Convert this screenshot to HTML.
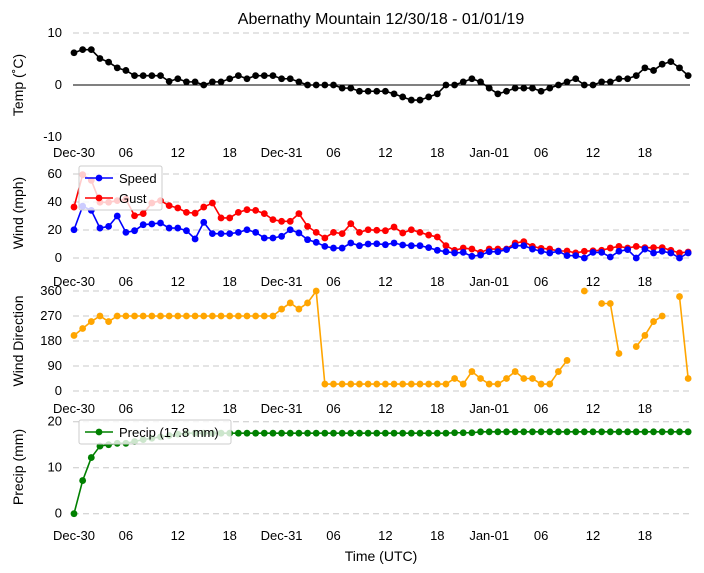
<!DOCTYPE html>
<html><head><meta charset="utf-8"><style>
body{margin:0;background:#fff;}
svg{display:block;font-family:"Liberation Sans","DejaVu Sans",sans-serif;}
</style></head><body>
<svg id="chart" width="704" height="573" viewBox="0 0 704 573" xmlns="http://www.w3.org/2000/svg">
<text x="381" y="24" font-size="16" text-anchor="middle">Abernathy Mountain 12/30/18 - 01/01/19</text>
</svg>
<script>
const tickLabels = ["Dec-30","06","12","18","Dec-31","06","12","18","Jan-01","06","12","18"];
const temp = [6.2,6.8,6.8,5.1,4.4,3.3,2.8,1.8,1.8,1.8,1.8,0.7,1.2,0.6,0.6,0,0.6,0.6,1.2,1.8,1.2,1.8,1.8,1.8,1.2,1.2,0.6,0,0,0,0,-0.6,-0.6,-1.2,-1.2,-1.2,-1.2,-1.7,-2.3,-2.9,-2.9,-2.3,-1.7,0,0,0.6,1.2,0.6,-0.6,-1.7,-1.2,-0.6,-0.6,-0.6,-1.2,-0.6,0,0.6,1.2,0,0,0.6,0.6,1.2,1.2,1.8,3.3,2.8,4.0,4.5,3.3,1.8];
const speed = [20.2,37,34,21.4,22.6,30,18.3,19.5,23.8,24.3,25,21.4,21.4,19.5,13.6,25.5,17.4,17.4,17.4,18.3,20.2,18.3,14.3,14.3,15.5,20.2,17.9,13.1,11.2,8.3,7.1,7.1,10.7,8.8,10,10.2,9.5,10.7,9.3,8.8,8.8,7.4,5.5,4.5,3.6,4,1.2,2.1,4.5,4.5,6,8.8,8.8,6.4,4.8,3.6,4.8,1.7,1.7,0,4,4,0.7,4.8,6,0,6.4,3.6,4.8,3.6,0,3.6];
const gust = [36.4,59.5,55.5,39.8,39.8,41,42,30.2,31.7,39.3,41,37.4,35.7,32.6,32,36.4,39.3,28.6,28.6,32.6,34.5,34,31.7,27.4,26.2,26.2,31.7,22.6,18.3,14.3,18.3,17.4,24.5,18.3,20.2,19.8,19.5,22.1,17.9,20.2,18.3,16.4,15,8.8,5.5,7.1,6.4,4,6.4,6.4,6.4,10.7,11.7,8.3,6.9,6.4,5,5,3.6,4.8,5.2,5.5,7.1,8.3,7.1,8.3,7.4,7.4,7.4,5.5,3.6,4.3];
const dir = [200,225,250,270,250,270,270,270,270,270,270,270,270,270,270,270,270,270,270,270,270,270,270,270,295,317,295,317,360,25,25,25,25,25,25,25,25,25,25,25,25,25,25,25,45,25,70,45,25,25,45,70,45,45,25,25,70,110,null,360,null,315,315,135,null,160,200,250,270,null,340,45];
const precip = [0,7.2,12.2,14.7,15,15.3,15.3,15.7,16.1,16.4,16.7,17,17.3,17.5,17.5,17.5,17.5,17.5,17.5,17.5,17.5,17.5,17.5,17.5,17.5,17.5,17.5,17.5,17.5,17.5,17.5,17.5,17.5,17.5,17.5,17.5,17.5,17.5,17.5,17.5,17.5,17.5,17.5,17.5,17.6,17.6,17.6,17.8,17.8,17.8,17.8,17.8,17.8,17.8,17.8,17.8,17.8,17.8,17.8,17.8,17.8,17.8,17.8,17.8,17.8,17.8,17.8,17.8,17.8,17.8,17.8,17.8];

const svg=document.getElementById('chart');
const NS="http://www.w3.org/2000/svg";
function el(tag,attrs,parent){const e=document.createElementNS(NS,tag);for(const k in attrs)e.setAttribute(k,attrs[k]);(parent||svg).appendChild(e);return e;}
const x=h=>74+h*8.65;
const X0=73,X1=690;

function panel(name,y0,v0,y1,v1,ticks,ylabel,labelY,grid,tickY){
  const g=el('g',{});
  
  
  const sy=v=>y0+(v-v0)*(y1-y0)/(v1-v0);
  ticks.forEach((t,i)=>{
    const yy=sy(t);
    const skip = grid==='zero' && i===ticks.length-1;
    if(!skip){
      const ln=el('line',{x1:X0,x2:X1,y1:yy,y2:yy,stroke:(grid==='zero'&&t===0)?'#000':'#c8c8c8','stroke-width':1,'stroke-dasharray':(grid==='zero'&&t===0)?'':'6,4'},g);
      
      
    }
    const tx=el('text',{x:62,y:yy+4,'font-size':13,'text-anchor':'end'},g);
    
    
    tx.textContent=t;
  });
  tickLabels.forEach((l,i)=>{
    const tx=el('text',{x:x(i*6),y:tickY,'font-size':13,'text-anchor':'middle'},g);
    
    
    tx.textContent=l;
  });
  const yl=el('text',{x:0,y:0,'font-size':14,'text-anchor':'middle',transform:`translate(23,${labelY}) rotate(-90)`},g);
  
  
  yl.textContent=ylabel;
  return sy;
}
function series(name,vals,sy,color){
  const g=el('g',{});
  
  
  let d='',pen=false;
  vals.forEach((v,i)=>{ if(v===null){pen=false;return;} d+=(pen?'L':'M')+x(i)+','+sy(v); pen=true;});
  el('path',{d:d,fill:'none',stroke:color,'stroke-width':1.6},g);
  vals.forEach((v,i)=>{ if(v===null)return;
    const c=el('circle',{cx:x(i),cy:sy(v),r:3.4,fill:color},g);
    
    
  });
}
function legend(name,x0,y0,w,entries){
  const g=el('g',{});
  
  
  el('rect',{x:x0,y:y0,width:w,height:entries.length*20+4,fill:'#fff','fill-opacity':0.8,stroke:'#ccc',rx:2},g);
  entries.forEach((e,i)=>{
    const yy=y0+12+i*20;
    const le=el('g',{},g);
    
    
    el('line',{x1:x0+6,x2:x0+34,y1:yy,y2:yy,stroke:e[1],'stroke-width':1.6},le);
    el('circle',{cx:x0+20,cy:yy,r:3.4,fill:e[1]},le);
    const t=el('text',{x:x0+40,y:yy+5,'font-size':13},le);
    t.textContent=e[0];
  });
}

const sT=panel('temp',33,10,137,-10,[10,0,-10],'Temp (˚C)',85,'zero',157);
series('temperature',temp,sT,'#000');
const sW=panel('wind',174,60,258,0,[60,40,20,0],'Wind (mph)',213,'dash',286);
series('gust',gust,sW,'#f00');
series('speed',speed,sW,'#00f');
legend('wind-legend',79,166,83,[['Speed','#00f'],['Gust','#f00']]);
const sD=panel('direction',291,360,391,0,[360,270,180,90,0],'Wind Direction',341,'dash',413);
series('wind-direction',dir,sD,'#ffa500');
const sP=panel('precip',421.7,20,513.7,0,[20,10,0],'Precip (mm)',467,'dash',540);
series('precipitation',precip,sP,'#008000');
legend('precip-legend',79,420,152,[['Precip (17.8 mm)','#008000']]);
const xt=el('text',{x:381,y:561,'font-size':14,'text-anchor':'middle'});


xt.textContent='Time (UTC)';
</script>
</body></html>
